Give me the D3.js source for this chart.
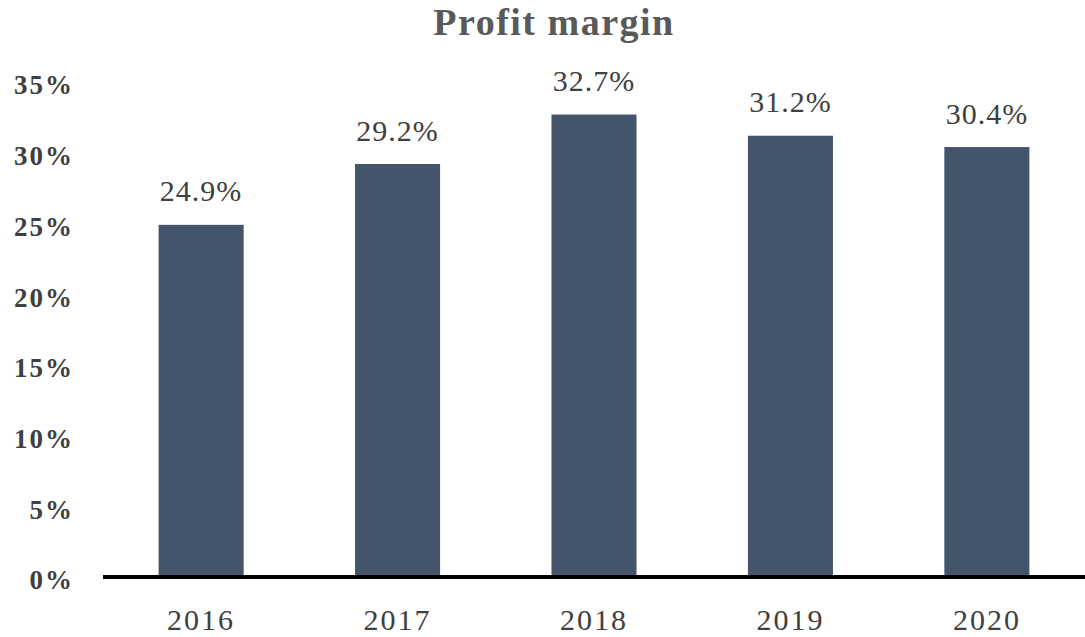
<!DOCTYPE html>
<html>
<head>
<meta charset="utf-8">
<script src="https://cdn.jsdelivr.net/npm/d3@7"></script>
<style>
  html, body { margin: 0; padding: 0; background: #fff; }
  text { font-family: "Liberation Serif", "DejaVu Serif", serif; }
</style>
</head>
<body>
<svg id="chart" width="1085" height="637"></svg>
<script>
const years = ['2016', '2017', '2018', '2019', '2020'];
const margins = [24.9, 29.2, 32.7, 31.2, 30.4];
const yTicks = [0, 5, 10, 15, 20, 25, 30, 35];

const svg = d3.select('#chart');
const plot = { left: 103, right: 1085, top: 82, bottom: 577 };

const x = d3.scaleBand()
  .domain(years)
  .range([plot.left, plot.right])
  .paddingInner(0.567)
  .paddingOuter(0.283);

const y = d3.scaleLinear()
  .domain([0, 35])
  .range([plot.bottom, plot.top]);

svg.append('text')
  .attr('x', 554)
  .attr('y', 35)
  .attr('text-anchor', 'middle')
  .attr('fill', '#595959')
  .style('font-size', '38px')
  .style('font-weight', 'bold')
  .style('letter-spacing', '1.5px')
  .text('Profit margin');

svg.append('g')
  .selectAll('text')
  .data(yTicks)
  .enter()
  .append('text')
  .attr('x', 74)
  .attr('y', d => y(d) + 3)
  .attr('dy', '0.35em')
  .attr('text-anchor', 'end')
  .attr('fill', '#404040')
  .style('font-size', '27px')
  .style('font-weight', 'bold')
  .style('letter-spacing', '2px')
  .text(d => `${d}%`);

svg.append('g')
  .selectAll('rect')
  .data(years)
  .enter()
  .append('rect')
  .attr('x', d => x(d))
  .attr('y', (d, i) => y(margins[i]))
  .attr('width', x.bandwidth())
  .attr('height', (d, i) => plot.bottom - y(margins[i]))
  .attr('fill', '#44546a');

svg.append('g')
  .selectAll('text')
  .data(years)
  .enter()
  .append('text')
  .attr('x', d => x(d) + x.bandwidth() / 2)
  .attr('y', (d, i) => y(margins[i]) - 34)
  .attr('dy', '0.35em')
  .attr('text-anchor', 'middle')
  .attr('fill', '#404040')
  .style('font-size', '30px')
  .style('letter-spacing', '1px')
  .text((d, i) => `${margins[i].toFixed(1)}%`);

svg.append('line')
  .attr('x1', plot.left)
  .attr('x2', plot.right)
  .attr('y1', plot.bottom)
  .attr('y2', plot.bottom)
  .attr('stroke', '#000')
  .attr('stroke-width', 4);

svg.append('g')
  .selectAll('text')
  .data(years)
  .enter()
  .append('text')
  .attr('x', d => x(d) + x.bandwidth() / 2)
  .attr('y', 619)
  .attr('dy', '0.35em')
  .attr('text-anchor', 'middle')
  .attr('fill', '#404040')
  .style('font-size', '30px')
  .style('letter-spacing', '2px')
  .text(d => d);
</script>
</body>
</html>
